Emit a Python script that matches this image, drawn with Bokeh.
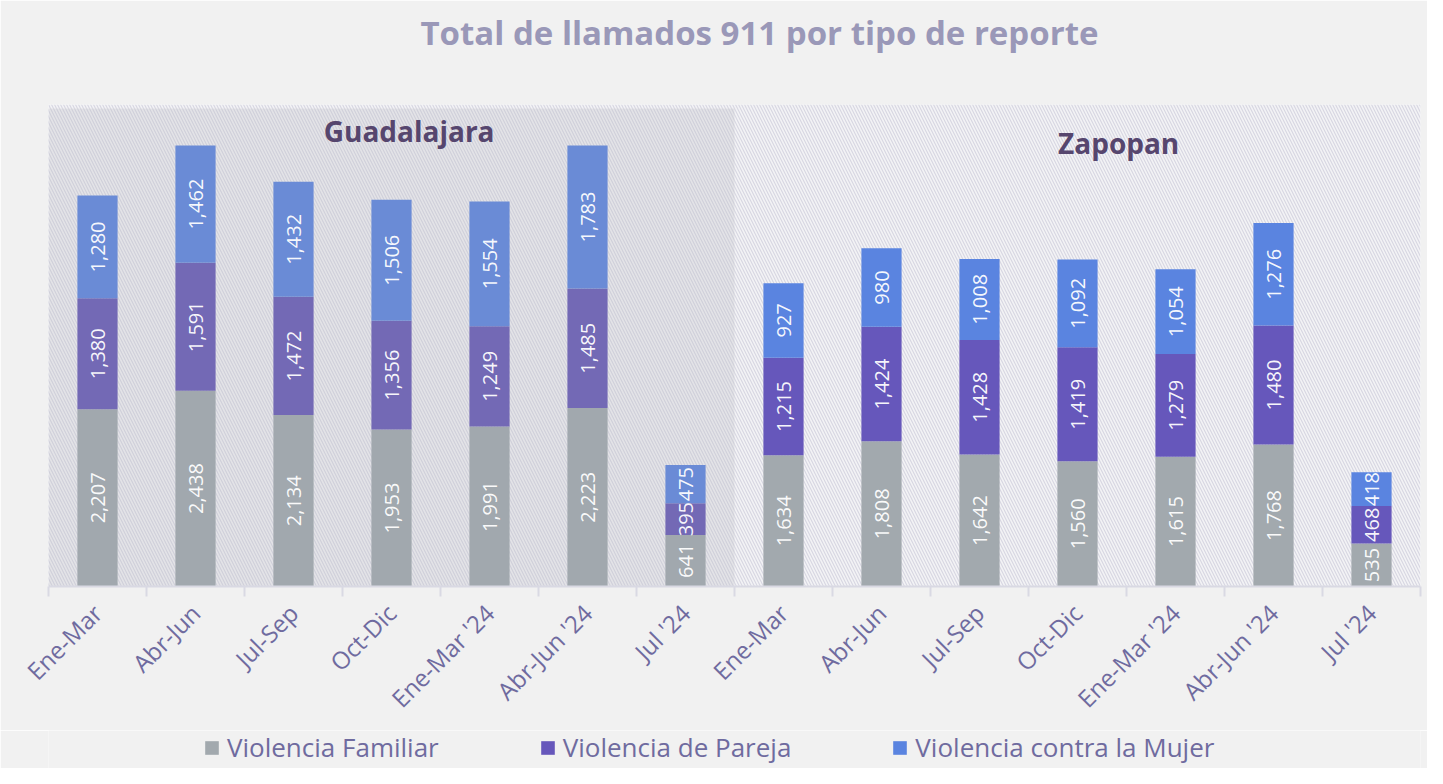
import math
from bokeh.plotting import figure
from bokeh.layouts import column
from bokeh.models import (ColumnDataSource, FixedTicker, Label, Legend, LegendItem)
from bokeh.core.properties import value
from bokeh.embed import file_html
from bokeh.resources import INLINE

# ---- data ----
periods = ["Ene-Mar", "Abr-Jun", "Jul-Sep", "Oct-Dic", "Ene-Mar '24", "Abr-Jun '24", "Jul '24"]
cities = ["Guadalajara", "Zapopan"]
series = ["Violencia Familiar", "Violencia de Pareja", "Violencia contra la Mujer"]

gdl_familiar = [2207, 2438, 2134, 1953, 1991, 2223, 641]
gdl_pareja = [1380, 1591, 1472, 1356, 1249, 1485, 395]
gdl_mujer = [1280, 1462, 1432, 1506, 1554, 1783, 475]

zap_familiar = [1634, 1808, 1642, 1560, 1615, 1768, 535]
zap_pareja = [1215, 1424, 1428, 1419, 1279, 1480, 468]
zap_mujer = [927, 980, 1008, 1092, 1054, 1276, 418]

# ---- styles ----
FONT = "Open Sans"
BG = "#f1f1f1"
LABEL_COL = "#6f6b9f"
gdl_colors = ["#a1a8ae", "#7369b5", "#6a8bd6"]
zap_colors = ["#a2a9ae", "#6657bb", "#5a84e0"]

n = len(periods)
N = 2 * n
YMAX = 6000

p = figure(width=1427, height=730, x_range=(0, N), y_range=(0, YMAX),
           output_backend="svg", toolbar_location=None,
           min_border_left=48, min_border_right=7, min_border_top=104, min_border_bottom=144)
p.background_fill_color = BG
p.border_fill_color = BG
p.outline_line_color = None
p.grid.visible = False
p.yaxis.visible = False

# title (blank second line lifts the text upward)
p.title.text = "Total de llamados 911 por tipo de reporte\n "
p.title.align = "left"
p.title.offset = 372
p.title.text_font = FONT
p.title.text_font_size = "33px"
p.title.text_font_style = "bold"
p.title.text_color = "#9a98b8"
p.title.text_line_height = 1.0

# region backgrounds
p.quad(left=[0], right=[N], bottom=[0], top=[YMAX], fill_color="#f3f3f5", line_color=None,
       hatch_pattern="\\", hatch_color="#d8d7e2", hatch_scale=6, hatch_weight=1.2)
p.quad(left=[0], right=[n], bottom=[0], top=[5950], fill_color="#e3e3e7", line_color=None,
       hatch_pattern="\\", hatch_color="#d0d0da", hatch_scale=6, hatch_weight=1.2)

def draw_city(offset, fam, par, muj, colors):
    xs = [offset + i + 0.5 for i in range(n)]
    src = ColumnDataSource(dict(x=xs, fam=fam, par=par, muj=muj))
    rs = p.vbar_stack(["fam", "par", "muj"], x="x", width=0.41, color=colors,
                      line_color=None, source=src)
    lx, ly, lt = [], [], []
    for i in range(n):
        base = 0
        for v in (fam[i], par[i], muj[i]):
            lx.append(xs[i]); ly.append(base + v / 2); lt.append(f"{v:,}")
            base += v
    p.text(x=lx, y=ly, text=lt, angle=math.pi / 2, text_align="center",
           text_baseline="middle", text_color="white", text_font=value(FONT),
           text_font_size="20px", text_alpha=0.95)
    return rs

draw_city(0, gdl_familiar, gdl_pareja, gdl_mujer, gdl_colors)
draw_city(n, zap_familiar, zap_pareja, zap_mujer, zap_colors)

# city labels
p.add_layout(Label(x=3.68, y=5666, text=cities[0], text_align="center", text_baseline="middle",
                   text_font=FONT, text_font_size="28px", text_font_style="bold",
                   text_color="#56466e"))
p.add_layout(Label(x=10.92, y=5517, text=cities[1], text_align="center", text_baseline="middle",
                   text_font=FONT, text_font_size="28px", text_font_style="bold",
                   text_color="#56466e"))

# x axis
labels = periods + periods
ticks = [i + 0.5 for i in range(N)]
p.xaxis.ticker = FixedTicker(ticks=ticks, minor_ticks=list(range(N + 1)))
p.xaxis.major_label_overrides = {t: l for t, l in zip(ticks, labels)}
p.xaxis.major_label_orientation = math.pi / 4
p.xaxis.major_tick_line_color = None
p.xaxis.minor_tick_line_color = "#d9d9e3"
p.xaxis.minor_tick_line_width = 2
p.xaxis.minor_tick_out = 10
p.xaxis.minor_tick_in = 0
p.xaxis.axis_line_color = "#d9d9e3"
p.xaxis.axis_line_width = 2
p.xaxis.major_label_text_font = FONT
p.xaxis.major_label_text_font_size = "24px"
p.xaxis.major_label_text_color = LABEL_COL
p.xaxis.major_label_standoff = 12

# legend in its own strip
lg = figure(width=1427, height=38, x_range=(0, 1), y_range=(0, 1),
            output_backend="svg", toolbar_location=None,
            min_border_left=0, min_border_right=0, min_border_top=0, min_border_bottom=0)
lg.background_fill_color = BG
lg.border_fill_color = BG
lg.outline_line_color = None
lg.axis.visible = False
lg.grid.visible = False
dummies = [lg.quad(left=[5], right=[6], bottom=[5], top=[6], fill_color=c, line_color=None)
           for c in zap_colors]
items = [LegendItem(label=s, renderers=[r]) for s, r in zip(series, dummies)]
legend = Legend(items=items, orientation="horizontal", location=(155, 3),
                spacing=100, padding=0, margin=0, background_fill_alpha=0,
                border_line_color=None, label_text_font=FONT, label_text_font_size="26px",
                label_text_color=LABEL_COL, glyph_width=17, glyph_height=17, label_standoff=7)
lg.add_layout(legend, "center")

layout = column(p, lg, spacing=0)
open("out.html", "w").write(file_html(layout, INLINE))
